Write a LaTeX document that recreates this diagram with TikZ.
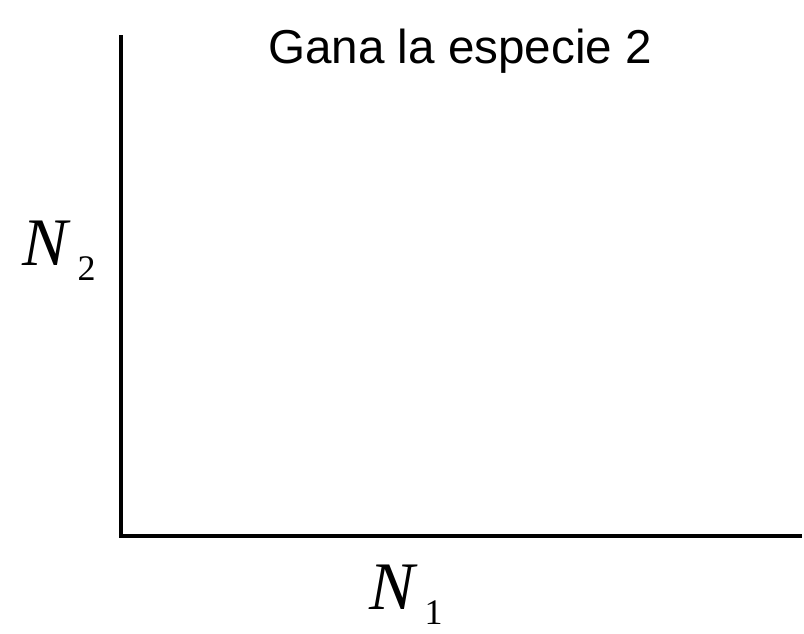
\documentclass[tikz,border=0pt]{standalone}
\usepackage{fontspec}
\setmainfont{Liberation Serif}
\newfontfamily\helv{Liberation Sans}
\usepackage{tikz}
\usetikzlibrary{calc}
\tikzset{
  axis/.style={line width=4pt,draw=black,line cap=rect},
  varlbl/.style={inner sep=0pt,anchor=base west,font=\fontsize{68}{68}\selectfont},
  titlelbl/.style={inner sep=0pt,anchor=base,font=\helv\fontsize{47.6}{50}\selectfont},
}
\newcommand{\sublbl}[1]{\kern7pt\raisebox{-15pt}{\fontsize{36}{36}\selectfont #1}}

\begin{document}
\begin{tikzpicture}[x=1pt,y=-1pt]
\useasboundingbox (0,0) rectangle (804,634);
\coordinate (origin) at (120.5,536);
\coordinate (ytop) at (120.5,37);
\coordinate (xend) at (800,536);
\draw[axis] (ytop) -- (origin) -- (xend);
\node[titlelbl] (title) at (460,64) {Gana la especie 2};
\node[varlbl] (n2lab) at (22,265) {\textit{N}\sublbl{2}};
\node[varlbl] (n1lab) at (369,609) {\textit{N}\sublbl{1}};
\end{tikzpicture}
\end{document}
